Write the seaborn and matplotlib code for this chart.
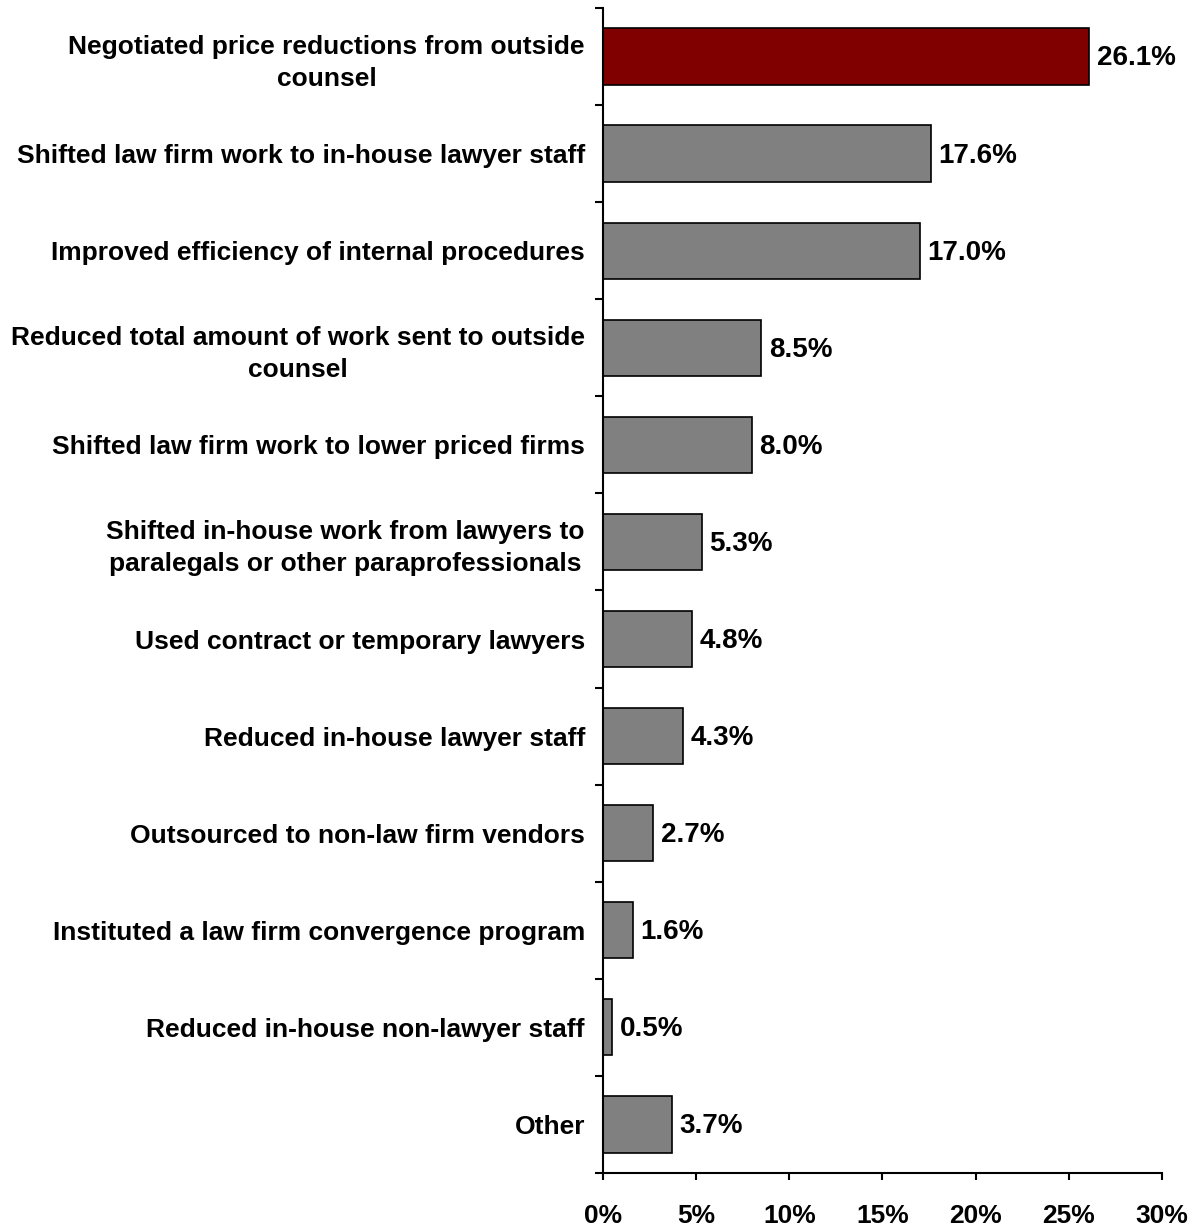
import matplotlib
matplotlib.use("Agg")
import matplotlib.pyplot as plt
from matplotlib.ticker import FixedLocator, PercentFormatter
import seaborn as sns
import pandas as pd

categories = [
    "Negotiated price reductions from outside\ncounsel",
    "Shifted law firm work to in-house lawyer staff",
    "Improved efficiency of internal procedures",
    "Reduced total amount of work sent to outside\ncounsel",
    "Shifted law firm work to lower priced firms",
    "Shifted in-house work from lawyers to\nparalegals or other paraprofessionals",
    "Used contract or temporary lawyers",
    "Reduced in-house lawyer staff",
    "Outsourced to non-law firm vendors",
    "Instituted a law firm convergence program",
    "Reduced in-house non-lawyer staff",
    "Other",
]
values = [26.1, 17.6, 17.0, 8.5, 8.0, 5.3, 4.8, 4.3, 2.7, 1.6, 0.5, 3.7]
highlight = categories[0]

sns.set_theme(style="ticks")
plt.rcParams["font.family"] = ["Liberation Sans", "DejaVu Sans"]
plt.rcParams["font.weight"] = "bold"
plt.rcParams["text.color"] = "black"
plt.rcParams["xtick.color"] = "black"
plt.rcParams["ytick.color"] = "black"
plt.rcParams["xtick.labelcolor"] = "black"
plt.rcParams["ytick.labelcolor"] = "black"

df = pd.DataFrame({"category": categories, "value": values})
palette = {c: ("#800000" if c == highlight else "#808080") for c in categories}

fig = plt.figure(figsize=(12.04, 12.29), dpi=100)
ax = fig.add_axes([0.5008, 0.0456, 0.4643, 0.9479])

sns.barplot(data=df, x="value", y="category", hue="category", palette=palette,
            legend=False, edgecolor="black", linewidth=1.2, width=0.58,
            saturation=1, ax=ax)

ax.set_xlim(0, 30)
ax.set_ylim(len(categories) - 0.5, -0.5)
ax.set_xlabel("")
ax.set_ylabel("")

# value labels at the end of each bar
for i, v in enumerate(values):
    ax.text(v + 0.4, i + 0.02, f"{v:.1f}%", va="center", ha="left",
            fontsize=20, fontweight="bold", color="black")

# x axis: percent ticks every 5
ax.set_xticks(range(0, 31, 5))
ax.xaxis.set_major_formatter(PercentFormatter(decimals=0))
ax.tick_params(axis="x", direction="out", length=5, width=1.5, pad=17, color="black")
for lbl in ax.get_xticklabels():
    lbl.set_fontsize(19)
    lbl.set_fontweight("bold")
    lbl.set_color("black")

# y axis: category labels, tick marks between categories
ax.yaxis.set_minor_locator(FixedLocator([i - 0.5 for i in range(len(categories) + 1)]))
ax.tick_params(axis="y", which="major", length=0, pad=13)
ax.tick_params(axis="y", which="minor", direction="out", length=6, width=1.5, color="black")
for lbl in ax.get_yticklabels():
    lbl.set_fontsize(19)
    lbl.set_fontweight("bold")
    lbl.set_multialignment("center")
    lbl.set_linespacing(1.4)
    lbl.set_color("black")

for side in ("top", "right"):
    ax.spines[side].set_visible(False)
for side in ("left", "bottom"):
    ax.spines[side].set_linewidth(1.5)
    ax.spines[side].set_color("black")

fig.savefig("out.png", dpi=100, facecolor="white")
